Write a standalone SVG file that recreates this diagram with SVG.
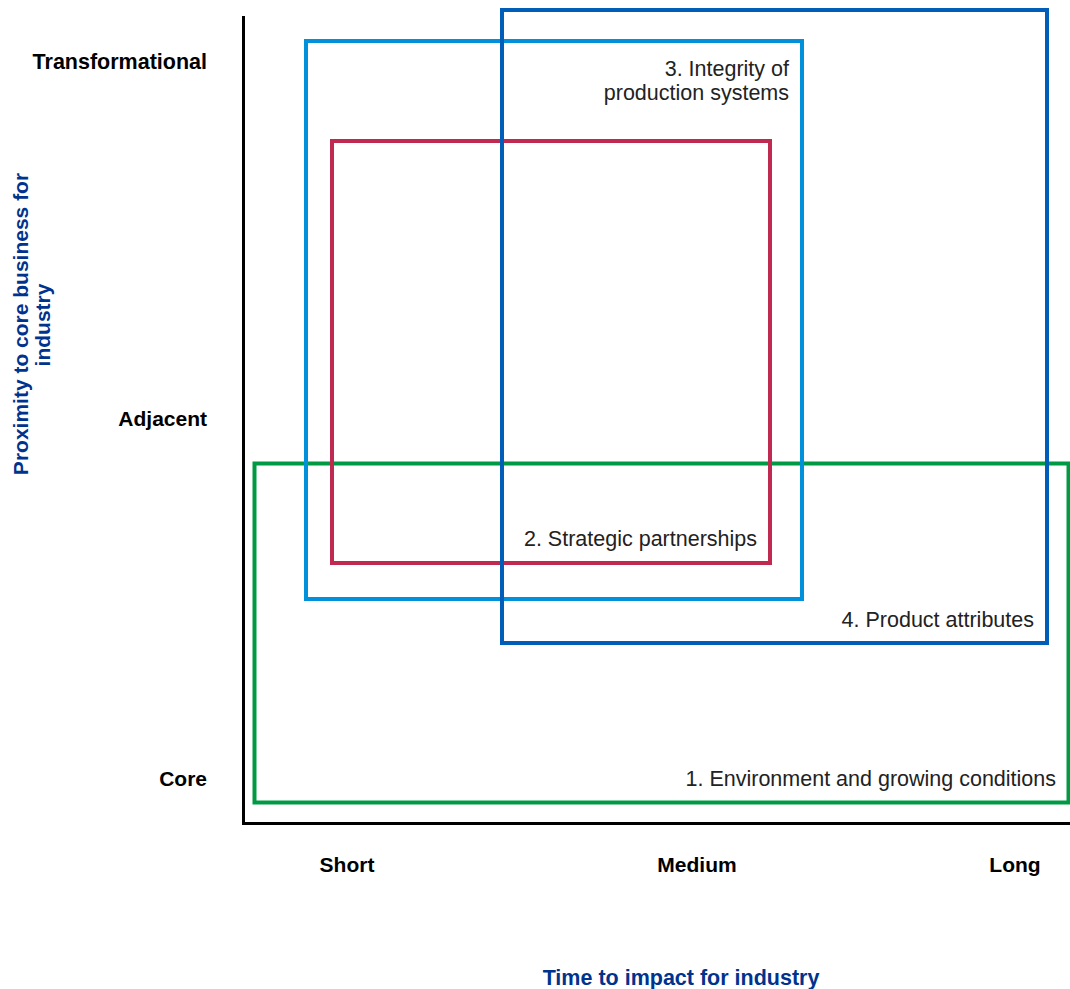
<svg xmlns="http://www.w3.org/2000/svg" width="1070" height="989" viewBox="0 0 1070 989">
<style>
.box{fill:none;stroke-width:4}
.lbl{font-family:"Liberation Sans",Arial,sans-serif;font-size:21.5px;fill:#222;text-anchor:end}
.tick{font-family:"Liberation Sans",Arial,sans-serif;font-size:21px;font-weight:bold;fill:#000}
.title{font-family:"Liberation Sans",Arial,sans-serif;font-size:21.5px;font-weight:bold;fill:#00338D;text-anchor:middle}
</style>
<rect width="1070" height="989" fill="#fff"/>
<g id="axes" fill="none" stroke="#000" stroke-width="3">
<polyline points="243.5,16 243.5,823.5 1070,823.5"/>
</g>
<g id="axis-labels">
<text class="tick" x="207" y="69" text-anchor="end" style="font-size:21.5px">Transformational</text>
<text class="tick" x="207" y="426" text-anchor="end">Adjacent</text>
<text class="tick" x="207" y="786" text-anchor="end">Core</text>
<text class="tick" x="347" y="872" text-anchor="middle">Short</text>
<text class="tick" x="697" y="872" text-anchor="middle">Medium</text>
<text class="tick" x="1015" y="872" text-anchor="middle">Long</text>
<text class="title" x="681" y="985">Time to impact for industry</text>
<text class="title" transform="rotate(-90)" style="font-size:21px"><tspan x="-324" y="28">Proximity to core business for</tspan><tspan x="-325" y="50">industry</tspan></text>
</g>
<g id="node1">
<rect class="box" x="254.5" y="463.5" width="814" height="339" stroke="#009A44"/>
<text class="lbl" x="1056" y="786">1. Environment and growing conditions</text>
</g>
<g id="node3">
<rect class="box" x="306" y="41" width="496" height="558" stroke="#0091DA"/>
<text class="lbl" x="789" y="76">3. Integrity of</text>
<text class="lbl" x="789" y="100">production systems</text>
</g>
<g id="node2">
<rect class="box" x="332" y="141" width="438" height="422" stroke="#C12A50"/>
<text class="lbl" x="757" y="546">2. Strategic partnerships</text>
</g>
<g id="node4">
<rect class="box" x="502" y="10" width="545" height="633" stroke="#005EB8"/>
<text class="lbl" x="1034" y="627">4. Product attributes</text>
</g>
</svg>
